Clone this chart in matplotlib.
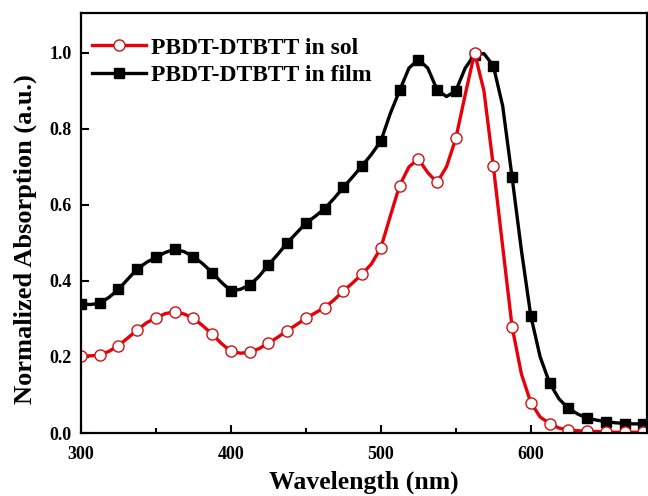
import numpy as np
import matplotlib
matplotlib.use("Agg")
from matplotlib import pyplot as plt
from matplotlib.ticker import MultipleLocator

# wavelength grid, markers drawn on every other point (12.5 nm)
wavelength = [300 + 6.25 * i for i in range(62)]

sol = [0.203, 0.203, 0.205, 0.215, 0.230, 0.250, 0.271, 0.290, 0.303, 0.314,
       0.319, 0.313, 0.302, 0.282, 0.260, 0.235, 0.215, 0.210, 0.212, 0.222,
       0.236, 0.252, 0.269, 0.285, 0.302, 0.316, 0.330, 0.350, 0.374, 0.395,
       0.418, 0.445, 0.487, 0.570, 0.651, 0.700, 0.721, 0.685, 0.659, 0.700,
       0.775, 0.890, 1.000, 0.900, 0.702, 0.490, 0.280, 0.155, 0.080, 0.042,
       0.025, 0.013, 0.008, 0.006, 0.005, 0.004, 0.003, 0.002, 0.002, 0.002,
       0.002, 0.002]

film = [0.339, 0.338, 0.341, 0.357, 0.378, 0.405, 0.431, 0.449, 0.462, 0.475,
        0.483, 0.477, 0.464, 0.445, 0.422, 0.396, 0.374, 0.378, 0.389, 0.412,
        0.442, 0.470, 0.500, 0.526, 0.552, 0.570, 0.590, 0.617, 0.646, 0.674,
        0.703, 0.733, 0.768, 0.840, 0.901, 0.960, 0.982, 0.960, 0.903, 0.885,
        0.900, 0.960, 0.995, 0.998, 0.966, 0.860, 0.673, 0.480, 0.308, 0.200,
        0.132, 0.090, 0.065, 0.050, 0.039, 0.034, 0.030, 0.027, 0.025, 0.024,
        0.024, 0.023]

plt.rcParams['font.family'] = ['Liberation Serif', 'DejaVu Serif']
plt.rcParams['font.weight'] = 'bold'

fig = plt.figure(figsize=(6.48, 4.96), dpi=100)
ax = fig.add_axes([0.125, 0.127, 0.873, 0.847])

ax.plot(wavelength, sol, '-', color='#e8000b', lw=2.4, marker='o',
        markevery=2, ms=8, mfc='white', mec='#d01010', mew=1.0,
        label="PBDT-DTBTT in sol")
ax.plot(wavelength, film, '-', color='black', lw=2.4, marker='s',
        markevery=2, ms=6.5, mfc='black', mec='black',
        label="PBDT-DTBTT in film", zorder=1)

ax.set_xlim(300, 677.3)
ax.set_ylim(0, 1.105)
ax.xaxis.set_major_locator(MultipleLocator(100))
ax.xaxis.set_minor_locator(MultipleLocator(50))
ax.yaxis.set_major_locator(MultipleLocator(0.2))
ax.yaxis.set_major_formatter(plt.FormatStrFormatter('%.1f'))
ax.tick_params(which='both', direction='in', width=1.5, labelsize=13)
ax.tick_params(which='major', length=6)
ax.tick_params(which='minor', length=3.5)
ax.tick_params(axis='x', pad=9)
ax.tick_params(axis='y', pad=6.5)
for s in ax.spines.values():
    s.set_linewidth(1.6)

ax.set_xlabel("Wavelength (nm)", fontsize=18.5, fontweight='bold', labelpad=6)
ax.set_ylabel("Normalized Absorption (a.u.)", fontsize=19, fontweight='bold')
ax.yaxis.set_label_coords(-0.078, 0.462)

ax.legend(loc='upper left', frameon=False, fontsize=17, handlelength=2.3,
          handletextpad=0.2, labelspacing=0.25, borderaxespad=0.0,
          bbox_to_anchor=(0.003, 0.965))

plt.savefig('out.png', dpi=100)
